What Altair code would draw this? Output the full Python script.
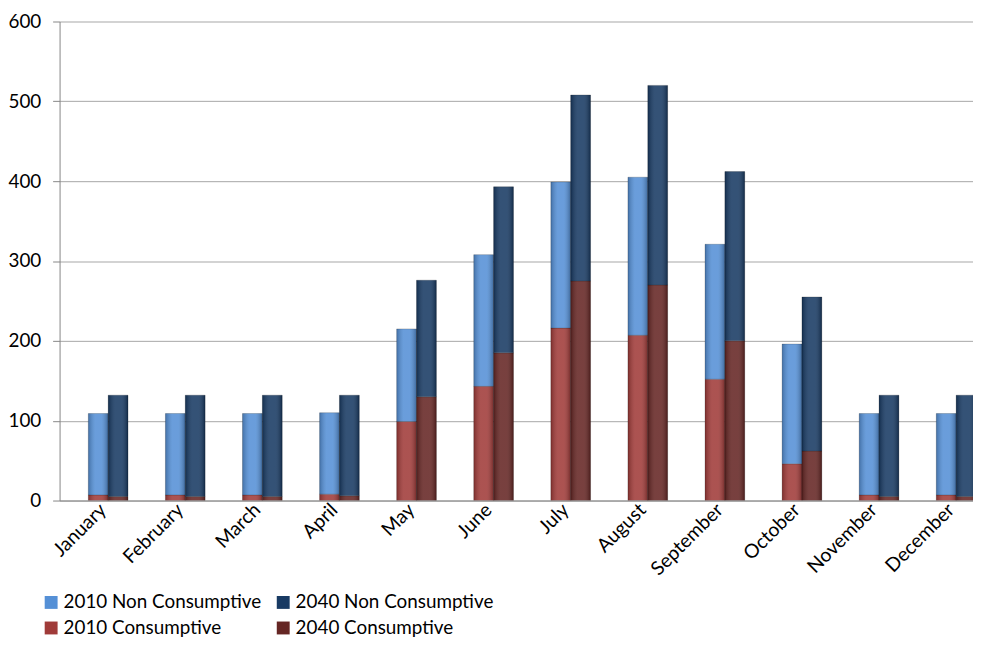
import altair as alt
import pandas as pd

months = ["January", "February", "March", "April", "May", "June", "July",
          "August", "September", "October", "November", "December"]
total_2010 = [109, 109, 109, 110, 215, 308, 399, 405, 321, 196, 109, 109]
cons_2010 = [7, 7, 7, 8, 99, 143, 216, 207, 152, 46, 7, 7]
total_2040 = [132, 132, 132, 132, 276, 393, 508, 520, 412, 255, 132, 132]
cons_2040 = [5, 5, 5, 6, 130, 185, 275, 270, 200, 62, 5, 5]

series = ["2010 Non Consumptive", "2040 Non Consumptive",
          "2010 Consumptive", "2040 Consumptive"]
colors = ["#5590D6", "#183A63", "#A03B39", "#652624"]

rows = []
for i, m in enumerate(months):
    rows.append(dict(month=m, year="2010", series="2010 Consumptive", kind=0, value=cons_2010[i]))
    rows.append(dict(month=m, year="2010", series="2010 Non Consumptive", kind=1, value=total_2010[i] - cons_2010[i]))
    rows.append(dict(month=m, year="2040", series="2040 Consumptive", kind=0, value=cons_2040[i]))
    rows.append(dict(month=m, year="2040", series="2040 Non Consumptive", kind=1, value=total_2040[i] - cons_2040[i]))
df = pd.DataFrame(rows)

FONT = "Lato"

x_enc = alt.X("month:N", sort=months, title=None,
              scale=alt.Scale(range=[0, 953], paddingInner=0.485, paddingOuter=0.373),
              axis=alt.Axis(labelAngle=315, labelFontSize=19.5, labelColor="#000000",
                            labelFont=FONT, ticks=False, domainColor="#868686",
                            labelPadding=6, labelOffset=-5,
                            labelAlign="right", labelBaseline="middle"))
xo_enc = alt.XOffset("year:N", sort=["2010", "2040"], scale=alt.Scale(paddingInner=0, paddingOuter=0))
y_enc = alt.Y("value:Q", stack="zero", title=None,
              scale=alt.Scale(domain=[0, 600], nice=False),
              axis=alt.Axis(values=[0, 100, 200, 300, 400, 500, 600], labelFontSize=19,
                            labelFont=FONT, labelColor="#000000", gridColor="#A6A6A6",
                            domainColor="#868686", tickColor="#868686", tickSize=7,
                            labelPadding=12))

base = alt.Chart(df).encode(
    x=x_enc, xOffset=xo_enc, y=y_enc,
    order=alt.Order("kind:Q", sort="ascending"),
)

bars = base.mark_bar(clip=True, stroke="#000000", strokeOpacity=0.25, strokeWidth=0.8).encode(
    color=alt.Color("series:N", sort=series,
                    scale=alt.Scale(domain=series, range=colors),
                    legend=alt.Legend(title=None, orient="none", legendX=-18, legendY=576,
                                      columns=2, direction="horizontal",
                                      symbolType="square", symbolSize=169,
                                      symbolStrokeWidth=0, labelFontSize=19, labelFont=FONT,
                                      labelColor="#000000", columnPadding=12, rowPadding=6,
                                      labelOffset=3, labelLimit=0)),
)

shade = base.mark_bar(clip=True, color=alt.Gradient(
    gradient="linear", x1=0, x2=1, y1=0, y2=0,
    stops=[alt.GradientStop(color="rgba(0,0,0,0.22)", offset=0),
           alt.GradientStop(color="rgba(255,255,255,0.12)", offset=0.35),
           alt.GradientStop(color="rgba(255,255,255,0.12)", offset=0.65),
           alt.GradientStop(color="rgba(0,0,0,0.28)", offset=1)]))

chart = alt.layer(bars, shade).properties(
    width=921, height=483,
    autosize=alt.AutoSizeParams(type="none"),
    padding={"left": 52, "top": 11, "right": 0, "bottom": 138},
).configure_view(stroke=None)

chart.save("out.html", embed_options={"renderer": "svg", "actions": False})
